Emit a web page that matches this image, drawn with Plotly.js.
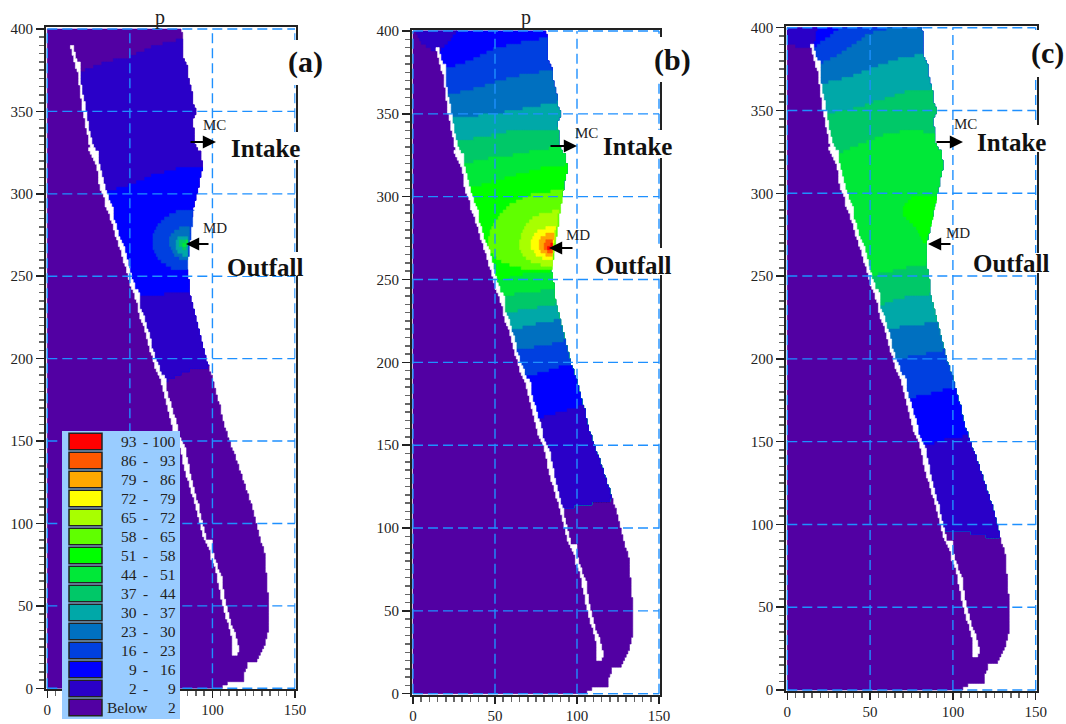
<!DOCTYPE html>
<html><head><meta charset="utf-8">
<script src="https://cdn.plot.ly/plotly-3.0.1.min.js"></script>
<style>html,body{margin:0;padding:0;background:#fff}#chart{width:1066px;height:724px}</style>
</head><body><div id="chart"></div>
<script>
// ---- legend ----
const legendLow  = ['93','86','79','72','65','58','51','44','37','30','23','16','9','2','Below'];
const legendHigh = ['100','93','86','79','72','65','58','51','44','37','30','23','16','9','2'];
const levelColors = ['#5200a3','#2a00c8','#0000ff','#0040e0','#0070c0','#00a8a8','#00c868','#00e838','#00ff00','#60ff00','#a8ff00','#ffff00','#ffa800','#ff5800','#ff0000'];
// ---- shared geometry ----
const bankY = [400,393,390,383,377,370,361,353,349,343,330,324,316,310,300,292,280,270,253,245,239,231,215,200,195,187,180,170,162,151,140,130,119,103,93,80,58,57,36,27,19,16,15.5,11,4,3.9,2,0];
const bankX = [80.4,82.4,81.6,82,84.4,85.4,87.4,88.4,90,88,89.4,92.5,94,92.5,91,88.8,86.4,84.4,84.4,85.8,85.8,88,92,95.5,97.5,100,101.6,104.6,106,109.6,113.7,117,120.7,125.8,127.8,132,133,134,134,132,128.4,126.8,121.7,119.7,118.7,112.7,106.6,105.6];
const stripY = [390,383,379,375,372,367,359,352,346,336,328,326,323,316,308,301,296,291,284,280,273,266,258,250,243,240,232,225,215,207,200,193,187,182,174,162,155,146,136,123,111,99,90,89,81,76,72,68,58,48,38,30,24,20];
const stripL = [13.7,15.3,16.8,16.8,19,19.2,20.4,20.8,22.2,24.2,25.8,25.4,26.2,29.9,31.3,31.9,34.9,35.5,38.4,40,41.6,44,46.4,49,50.5,52,54.5,56.1,59.8,61.2,63.8,65.6,68.2,69.9,71.7,74.7,76.7,80.4,82.4,85.8,89.4,92.5,95,95.9,98.9,99.5,101.6,102.6,104.6,106.6,109.6,111.7,111.7,111.7];
const stripR = [15.3,17,19.8,20.4,20.4,20.4,21.8,23.2,23.8,26.2,27.9,30.5,30.9,31.9,33.9,35.9,37.6,40,40.4,42,43.6,47,48.9,51,53.1,55.5,56.1,58.5,61.8,63.2,65.8,68.2,71.7,71.9,74.3,77.9,79.3,83.4,85.4,88,91.5,94.1,96.5,99.5,100.5,102.6,103,105.6,106.6,109,111.7,114.7,116.1,115.1];
// ---- contour boundaries: y at five points across the channel, top to bottom ----
const contoursA = [[374,380,383,390,394],[301,305,311,315,316],[237,238,239,240,240],[186,189,192,194,195]];
const levelsA   = [1,2,1];
const ringsA    = [[63.6,290.6,253,3],[73.9,280,260,4],[77.5,274.5,262,5],[80,272,266,6],[81.5,271,268,7]];
const contoursB = [[400,400,400,400,400],[377,382,389,393,396],[361,365,370,374,376],[347,349,351,354,357],[333,336,339,340,341],[320,323,325,328,330],[305,309,313,317,319],[250,251,253,254,255],[240,241,242,243,244],[229,231,232,234,235],[219,221,223,224,226],[207,208,210,211,213],[191,193,195,197,198],[166,168,170,172,174],[111,113,114,116,117]];
const levelsB   = [2,3,4,5,6,7,8,7,6,5,4,3,2,1];
const ringsB    = [[46,304,255,9],[65,291.5,258,10],[72,282,262,11],[77,278,264,12],[79.5,274,266,13],[81.5,271,268,14]];
const blobBX = [1.5,4,12,15,20,27], blobBY = [400,393,388,387,392,400];
const contoursC = [[400,400,400,400,400],[388,400,400,400,400],[378,385,396,400,400],[366,370,376,381,384],[348,351,356,361,363],[324,329,335,338,336],[250,252,254,256,257],[232,235,237,238,239],[217,219,220,221,222.5],[199,201,202,204,205],[176,178,179,181,182],[147,149,151,152,154],[95,95,95,93,91]];
const levelsC   = [2,3,4,5,6,7,6,5,4,3,2,1];
const blobCX = [0,0,8,15,15.5,17,18], blobCY = [400,390,388,387,388,395,400];
const patchCX = [90.1,76,70,70,78,83,86,89], patchCY = [298,297,291,286,278,269,278,292];
const fontName = 'Liberation Serif, Times New Roman, serif';
// ---- panel frames in pixels ----
const panels = [
 {id:'', L:46,R:295.5,T:27,B:689, x0:47.3,x150:295,y400:29,y0:688.3, contours:contoursA,levels:levelsA,rings:ringsA,hide50:true},
 {id:'2',L:412,R:660,T:29.7,B:694.7, x0:413,x150:659,y400:31,y0:693.7, contours:contoursB,levels:levelsB,rings:ringsB,blob:[blobBX,blobBY,1]},
 {id:'3',L:786.3,R:1037,T:26,B:691, x0:787.3,x150:1035.7,y400:27.7,y0:690, contours:contoursC,levels:levelsC,rings:[],blob:[blobCX,blobCY,1],patch:[patchCX,patchCY,8]}
];
const W=1066,H=724;
const px=x=>x/W, py=y=>1-y/H;

function interp(ys,xs,y){ // ys descending
  if(y>=ys[0]) return xs[0];
  for(let i=1;i<ys.length;i++){ if(y>=ys[i]){const f=(y-ys[i])/(ys[i-1]-ys[i]);return xs[i]+f*(xs[i-1]-xs[i]);} }
  return xs[xs.length-1];
}
const bank=y=>interp(bankY,bankX,y), sr=y=>y<20?bank(y):interp(stripY,stripR,y);
function contourPts(c){return c.map((y,i)=>{const t=i/4;const a=sr(y),b=bank(y);return [a+t*(b-a),y];});}
function band(up,lo){
  const pts=contourPts(up);
  const yu=up[4], yl=lo[4];
  bankY.forEach((y,i)=>{if(y<yu&&y>yl)pts.push([bankX[i],y]);});
  contourPts(lo).reverse().forEach(p=>pts.push(p));
  for(let i=stripY.length-1;i>=0;i--){const y=stripY[i];if(y>lo[0]&&y<up[0])pts.push([stripR[i],y]);}
  return pts;
}
function ring(r){
  const [l,top,bot]=r, cy=270, pts=[];
  const ys=[]; for(let k=0;k<=24;k++) ys.push(top+(bot-top)*k/24);
  ys.forEach(y=>{const ry=y>=cy?top-cy:cy-bot;const u=Math.min(1,Math.abs(y-cy)/ry);const b=bank(y);pts.push([b-(b-Math.min(l,b))*Math.sqrt(1-u*u),y]);});
  return pts;
}
function stair(pts){ // the source is a raster of model cells
  const xs=[],ys=[];
  for(let i=0;i<pts.length;i++){
    const a=pts[i],b=pts[(i+1)%pts.length];
    const n=Math.max(1,Math.ceil(Math.max(Math.abs(b[0]-a[0]),Math.abs(b[1]-a[1]))));
    for(let k=0;k<n;k++){xs.push(Math.round((a[0]+(b[0]-a[0])*k/n))); ys.push(Math.round((a[1]+(b[1]-a[1])*k/n)/2)*2);}
  }
  xs.push(xs[0]);ys.push(ys[0]);
  return [xs,ys];
}
const data=[];const layout={
  width:W,height:H,margin:{l:0,r:0,t:0,b:0},paper_bgcolor:'#fff',plot_bgcolor:'#fff',showlegend:false,hovermode:false,
  font:{family:fontName,color:'#222',size:15},shapes:[],annotations:[]
};
function addPoly(p,xa,ya,color,lw){
  const s=stair(p);
  data.push({type:'scatter',mode:'lines',x:s[0],y:s[1],xaxis:xa,yaxis:ya,fill:'toself',fillcolor:color,
    line:{color:color,width:lw,shape:'hv'},hoverinfo:'skip',showlegend:false});
}
const gridColor='#1e90ff';
panels.forEach(pn=>{
  const xa='x'+pn.id, ya='y'+pn.id;
  const ux=(pn.x150-pn.x0)/150, uy=(pn.y0-pn.y400)/400;
  const ax={showline:true,mirror:true,linecolor:'#222',linewidth:2,showgrid:false,zeroline:false,
    ticks:'outside',ticklen:7,tickwidth:1.5,tickcolor:'#222',tick0:0,dtick:50,
    tickfont:{family:fontName,size:15,color:'#222'},
    minor:{ticks:'outside',dtick:5,ticklen:5,tickwidth:1.5,tickcolor:'#666',tick0:0}};
  const xax=Object.assign({},ax,{anchor:ya,domain:[px(pn.L),px(pn.R)],range:[(pn.L-pn.x0)/ux,(pn.R-pn.x0)/ux],ticklabelstandoff:-1});
  if(pn.hide50){Object.assign(xax,{tickmode:'array',tickvals:[0,50,100,150],ticktext:['0','','100','150']});}
  layout['xaxis'+pn.id]=xax;
  layout['yaxis'+pn.id]=Object.assign({},ax,{anchor:xa,domain:[py(pn.B),py(pn.T)],range:[(pn.y0-pn.B)/uy,(pn.y0-pn.T)/uy],ticklen:8});
  // purple base
  const base=[[0,0],[0,400]];
  bankY.forEach((y,i)=>base.push([bankX[i],y]));
  addPoly(base,xa,ya,levelColors[0],0.6);
  // each band reaches to the last contour; the next one paints over it, so no seams show
  const last=pn.contours[pn.contours.length-1];
  pn.levels.forEach((lv,i)=>addPoly(band(pn.contours[i],last),xa,ya,levelColors[lv],0.6));
  pn.rings.forEach(r=>addPoly(ring(r),xa,ya,levelColors[r[3]],0.6));
  if(pn.patch) addPoly(pn.patch[0].map((x,i)=>[x,pn.patch[1][i]]),xa,ya,levelColors[pn.patch[2]],0.6);
  if(pn.blob) addPoly(pn.blob[0].map((x,i)=>[x,pn.blob[1][i]]),xa,ya,levelColors[pn.blob[2]],0.6);
  // white channel
  const strip=[]; stripY.forEach((y,i)=>strip.push([stripL[i],y]));
  for(let i=stripY.length-1;i>=0;i--) strip.push([stripR[i],stripY[i]]);
  addPoly(strip,xa,ya,'#ffffff',0.6);
  // dashed grid above the fill
  [0,50,100,150].forEach(v=>layout.shapes.push({type:'line',xref:xa,yref:ya,x0:v,x1:v,y0:0,y1:400,layer:'above',line:{color:gridColor,width:1.4,dash:'10px,5px'}}));
  [0,50,100,150,200,250,300,350,400].forEach(v=>layout.shapes.push({type:'line',xref:xa,yref:ya,x0:0,x1:150,y0:v,y1:v,layer:'above',line:{color:gridColor,width:1.4,dash:'10px,5px'}}));
});
// white boxes behind the labels, as in the source
const boxes=[[285,325,40,85],[229,303,132,160],[223,304,252,276],
             [645,690,37,82],[603,672,130,158],[593,672,248,275],
             [1027,1066,30,77],[977,1046,125,152],[975,1050,253,273]];
boxes.forEach(b=>layout.shapes.push({type:'rect',xref:'paper',yref:'paper',x0:px(b[0]),x1:px(b[1]),y0:py(b[3]),y1:py(b[2]),layer:'above',fillcolor:'#fff',line:{width:0}}));
// legend block
layout.shapes.push({type:'rect',xref:'paper',yref:'paper',x0:px(62),x1:px(180),y0:py(719),y1:py(431),layer:'above',fillcolor:'#99ccff',line:{width:0}});
legendLow.forEach((t,i)=>{
  const top=433.3+i*19;
  layout.shapes.push({type:'rect',xref:'paper',yref:'paper',x0:px(69),x1:px(102),y0:py(top+16.5),y1:py(top),layer:'above',fillcolor:levelColors[14-i],line:{color:'#222',width:1.5}});
  const a=(text,x,anchor)=>layout.annotations.push({text,xref:'paper',yref:'paper',x:px(x),y:py(top+8.5),xanchor:anchor,yanchor:'middle',showarrow:false,font:{family:fontName,size:15.5,color:'#222'}});
  if(t==='Below'){a(t,150,'right');}else{a(t,139,'right');a('-',145,'center');}
  a(legendHigh[i],177.5,'right');
});
// labels
const labels=[['p',160,17,20,false],['p',525.5,18,20,false],
 ['(a)',305,62,30,true],['(b)',672,60,30,true],['(c)',1047,53,30,true],
 ['Intake',265.7,148,25,true],['Intake',637.3,146.7,25,true],['Intake',1011.7,142,25,true],
 ['Outfall',265,267,25,true],['Outfall',633,265,25,true],['Outfall',1011,263,25,true],
 ['MC',214,125,15,false],['MC',586,133,15,false],['MC',965,124,15,false],
 ['MD',215,228,15,false],['MD',578,235,15,false],['MD',958,233,15,false]];
labels.forEach(l=>layout.annotations.push({text:l[4]?'<b>'+l[0]+'</b>':l[0],xref:'paper',yref:'paper',x:px(l[1]),y:py(l[2]),xanchor:'center',yanchor:'middle',showarrow:false,font:{family:fontName,size:l[3],color:l[4]?'#111':'#222'}}));
const arrows=[[216,142,189,142],[186,244,210,244],[577,146,549,146],[549,248,574,248],[963,142,935,142],[928,244,952,244]];
arrows.forEach(a=>layout.annotations.push({text:'',xref:'paper',yref:'paper',x:px(a[0]),y:py(a[1]),ax:a[2]-a[0],ay:a[3]-a[1],axref:'pixel',ayref:'pixel',showarrow:true,arrowhead:2,arrowsize:1.2,arrowwidth:2.2,arrowcolor:'#000'}));
Plotly.newPlot('chart',data,layout,{staticPlot:true,displayModeBar:false});
</script></body></html>
